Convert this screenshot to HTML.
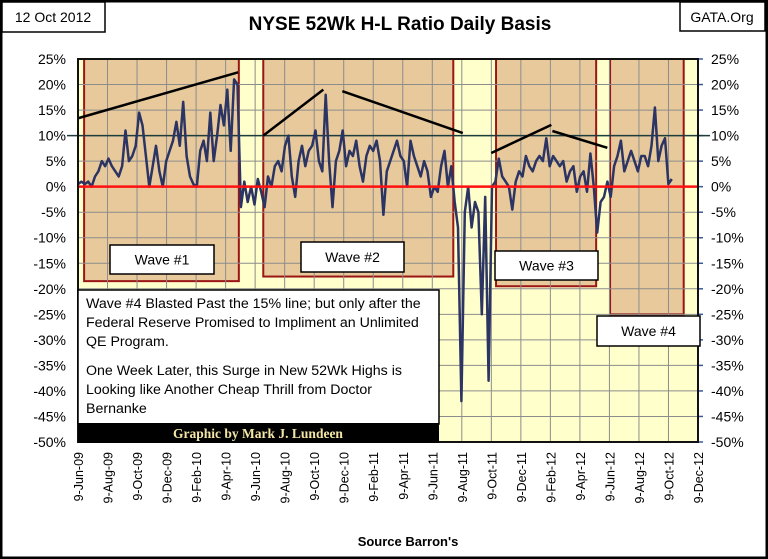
<!DOCTYPE html>
<html><head><meta charset="utf-8"><style>
body{margin:0;background:#fff;}
svg{display:block;font-family:"Liberation Sans",sans-serif;}
</style></head><body>
<svg width="768" height="559" viewBox="0 0 768 559">
<rect x="1" y="1" width="766" height="557" fill="#fff" stroke="#000" stroke-width="3"/>
<rect x="2" y="2" width="103" height="30" fill="#fff" stroke="#000" stroke-width="1.5"/>
<text x="53" y="22" font-size="14" text-anchor="middle">12 Oct 2012</text>
<rect x="680" y="2" width="85" height="29" fill="#fff" stroke="#000" stroke-width="1.5"/>
<text x="722" y="22" font-size="14" text-anchor="middle">GATA.Org</text>
<text x="400" y="30" font-size="19" font-weight="bold" text-anchor="middle">NYSE 52Wk H-L Ratio Daily Basis</text>
<g id="plot"></g>
<text x="408" y="546" font-size="13" font-weight="bold" text-anchor="middle">Source Barron's</text>
</svg>
<script>
const yTicks=[25,20,15,10,5,0,-5,-10,-15,-20,-25,-30,-35,-40,-45,-50];
const xTickLabels=["9-Jun-09","9-Aug-09","9-Oct-09","9-Dec-09","9-Feb-10","9-Apr-10","9-Jun-10","9-Aug-10","9-Oct-10","9-Dec-10","9-Feb-11","9-Apr-11","9-Jun-11","9-Aug-11","9-Oct-11","9-Dec-11","9-Feb-12","9-Apr-12","9-Jun-12","9-Aug-12","9-Oct-12","9-Dec-12"];
// weekly values starting 9-Jun-2009 (% ratio)
const ratioValues=[0.5,1,0.5,1,0,2,3,5,4,5.5,4,3,2,4,11,5,6,8,14.5,12,6,0,4,8,3,0,5,7,9,12.7,8,16.6,6,2,0.5,0,7,9,5,14.5,5,10,16,12,19,7,21,20,-4,1,-3,0,-3.5,1.5,-1,-4,2,0,4,5,3,8,10,2,-2,5,8,4,7,8,11,5,3,18,5,-4,5,7,11,4,7,6,9,4,1,6,8,7,9,5,-5.5,3,5,7,9,6,5,0,9,6,4,2,5,3,-2,0,-1,4,7,0,4,-3,-8,-42,-5,0,-8,-3,-5,-25,-2,-38,0,1,5.5,2,1,0,-4.5,1,3,2,6,4,3,5,6,5,9.5,4,6,5,4,5,1,3,4,-1,2,3,-1,6.5,0,-9,-3,-2,1,-2,4,6,9,3,5,7,5,3,6,6,4,8,15.5,5,8,9.5,0.5,1.5];
// wave boxes: start week, end week, bottom %
const waveStarts=[1.8,54.6,123.2,156.8];
const waveEnds=[47.4,110.6,152.7,178.5];
const waveBottoms=[-18.5,-17.6,-19.5,-25];
const waveNames=["Wave #1","Wave #2","Wave #3","Wave #4"];
// trend lines: [week1,%1,week2,%2]
const trendStartWeek=[0,54.6,77.9,121.8,139.8];
const trendStartPct=[13.4,10,18.7,6.6,10.9];
const trendEndWeek=[47.2,72.3,113.4,139.5,156];
const trendEndPct=[22.4,19,10.5,12.1,7.6];

const L=78,R=698,T=59,B=442;
const totalWeeks=1279/7;
const xs=w=>L+(R-L)*w/totalWeeks;
const ys=v=>T+(25-v)/75*(B-T);
const NS="http://www.w3.org/2000/svg";
const g=document.getElementById('plot');
function mk(tag,attrs,parent){const e=document.createElementNS(NS,tag);for(const k in attrs)e.setAttribute(k,attrs[k]);(parent||g).appendChild(e);return e;}

const bg=mk('rect',{x:L,y:T,width:R-L,height:B-T,fill:'#ffffcc'});


waveStarts.forEach((s,i)=>{
 const r=mk('rect',{x:xs(s),y:T,width:xs(waveEnds[i])-xs(s),height:ys(waveBottoms[i])-T,fill:'#e8c99c',stroke:'#9b1515','stroke-width':2});
 
 
});
// gridlines
yTicks.forEach(v=>{
 const l=mk('line',{x1:L,x2:R,y1:ys(v),y2:ys(v),stroke:'#8c8c8c','stroke-width':1});
 
 
});
xTickLabels.forEach((t,i)=>{
 const x=L+(R-L)*i/21;
 const l=mk('line',{x1:x,x2:x,y1:T,y2:B,stroke:'#8c8c8c','stroke-width':1});
 
 
 const tx=mk('text',{x:0,y:0,'font-size':12.5,'text-anchor':'end',transform:`translate(${x+5},452) rotate(-90)`});
 tx.textContent=t;
 
 
});
yTicks.forEach(v=>{
 const a=mk('text',{x:66,y:ys(v)+5,'font-size':14,'text-anchor':'end'});a.textContent=v+'%';
 
 
 const b=mk('text',{x:711,y:ys(v)+5,'font-size':14});b.textContent=v+'%';
 
 
 const tk=mk('line',{x1:R,x2:R+5,y1:ys(v),y2:ys(v),stroke:'#3a5a9a','stroke-width':1.5});
 
 
});
const ten=mk('line',{x1:67,x2:710,y1:ys(10),y2:ys(10),stroke:'#1d3c3c','stroke-width':1.5});


// series
const pts=ratioValues.map((v,i)=>xs(i).toFixed(1)+','+ys(v).toFixed(1)).join(' ');
const pl=mk('polyline',{points:pts,fill:'none',stroke:'#2b3462','stroke-width':2.5,'stroke-linejoin':'round'});


const zero=mk('line',{x1:L,x2:R,y1:ys(0),y2:ys(0),stroke:'#ff1010','stroke-width':2.5});


trendStartWeek.forEach((w,i)=>{
 const l=mk('line',{x1:xs(w),y1:ys(trendStartPct[i]),x2:xs(trendEndWeek[i]),y2:ys(trendEndPct[i]),stroke:'#000','stroke-width':2.5});
 
 
});
const frame=mk('rect',{x:L,y:T,width:R-L,height:B-T,fill:'none',stroke:'#111','stroke-width':2});


// wave labels
const lbl=[[110,245,104,29],[301,242,103,30],[495,251,103,29],[597,316,103,30]];
lbl.forEach((b,i)=>{
 const r=mk('rect',{x:b[0],y:b[1],width:b[2],height:b[3],fill:'#fff',stroke:'#000','stroke-width':1.5});
 
 
 const t=mk('text',{x:b[0]+b[2]/2,y:b[1]+b[3]/2+5,'font-size':14,'text-anchor':'middle'});
 t.textContent=waveNames[i];
 
 
});
// annotation
const ab=mk('rect',{x:78,y:290,width:361,height:134,fill:'#fff',stroke:'#000','stroke-width':1.5});


const lines=[["Wave #4 Blasted Past the 15% line; but only after the",308],["Federal Reserve Promised to Impliment an Unlimited",327],["QE Program.",346],["One Week Later, this Surge in New 52Wk Highs  is",375],["Looking like Another Cheap Thrill from Doctor",394],["Bernanke",413]];
lines.forEach(l=>{
 const t=mk('text',{x:86,y:l[1],'font-size':14.2});t.textContent=l[0];
 
 
});
const bar=mk('rect',{x:78,y:423,width:361,height:20,fill:'#000'});


const cr=mk('text',{x:258,y:438,'font-size':13.5,'font-weight':'bold','text-anchor':'middle',fill:'#f3e6a6','font-family':'"Liberation Serif",serif'});
cr.textContent='Graphic by Mark J. Lundeen';


</script>
</body></html>
